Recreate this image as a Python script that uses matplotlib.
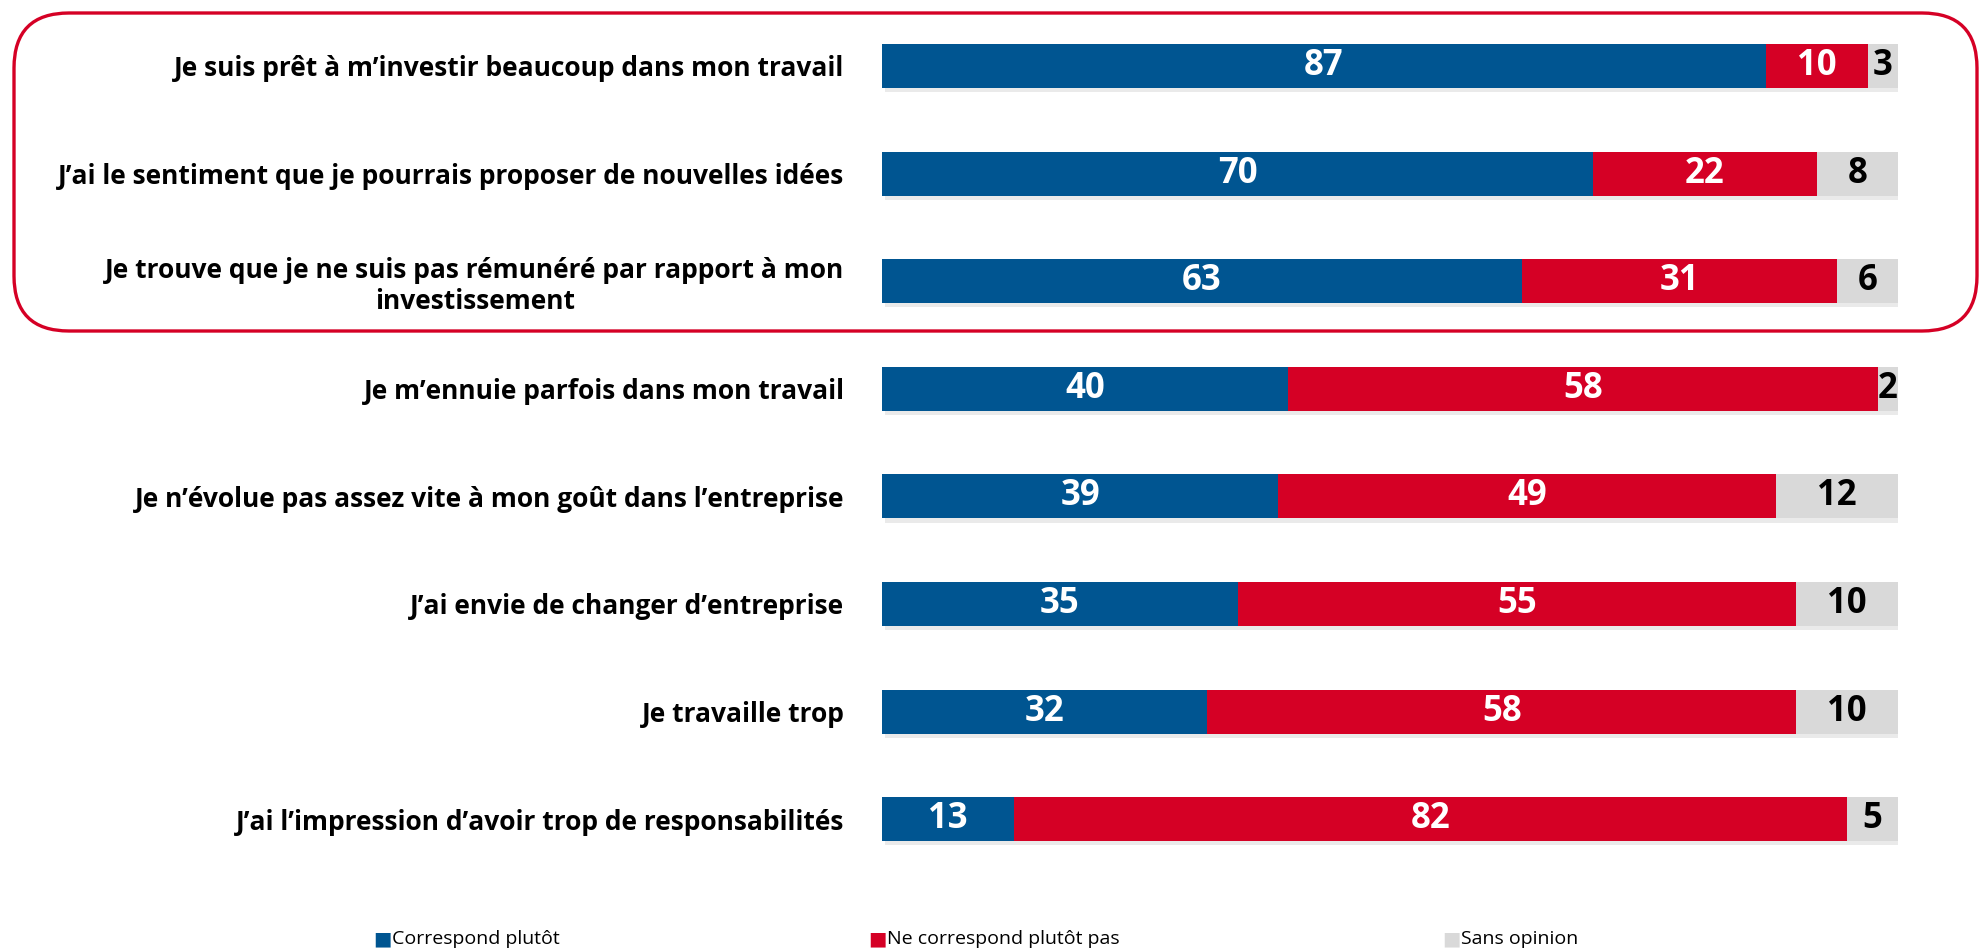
import numpy as np
import matplotlib.pyplot as plt
from matplotlib.patches import FancyBboxPatch
from matplotlib.transforms import IdentityTransform
import matplotlib.patheffects as pe

plt.rcParams["font.family"] = ["Open Sans", "DejaVu Sans"]

labels = [
    "Je suis prêt à m\u2019investir beaucoup dans mon travail",
    "J\u2019ai le sentiment que je pourrais proposer de nouvelles idées",
    "Je trouve que je ne suis pas rémunéré par rapport à mon\ninvestissement",
    "Je m\u2019ennuie parfois dans mon travail",
    "Je n\u2019évolue pas assez vite à mon goût dans l\u2019entreprise",
    "J\u2019ai envie de changer d\u2019entreprise",
    "Je travaille trop",
    "J\u2019ai l\u2019impression d\u2019avoir trop de responsabilités",
]
correspond = [87, 70, 63, 40, 39, 35, 32, 13]
ne_correspond = [10, 22, 31, 58, 49, 55, 58, 82]
sans_opinion = [3, 8, 6, 2, 12, 10, 10, 5]

series = ["Correspond plutôt", "Ne correspond plutôt pas", "Sans opinion"]
colors = ["#005591", "#d50025", "#d9d9d9"]
text_colors = ["white", "white", "black"]

W, H = 1982, 952
fig = plt.figure(figsize=(W / 100, H / 100), dpi=100)
ax = fig.add_axes([882 / W, 0, 1016 / W, 1])

y = np.arange(len(labels))
left = np.zeros(len(labels))
shadow = [pe.SimplePatchShadow(offset=(2, -3), shadow_rgbFace="#9a9a9a", alpha=0.2), pe.Normal()]
for vals, col, tcol in zip([correspond, ne_correspond, sans_opinion], colors, text_colors):
    vals = np.array(vals)
    ax.barh(y, vals, left=left, height=0.41, color=col, path_effects=shadow)
    for yi, l, v in zip(y, left, vals):
        ax.text(l + v / 2, yi, str(v), ha="center", va="center", color=tcol,
                fontsize=25, fontweight="bold")
    left = left + vals

ax.set_xlim(0, 100)
sp = 107.6
ax.set_ylim((H - 66) / sp, -66 / sp)
ax.set_yticks(y)
ax.set_yticklabels(labels, fontsize=19, fontweight="bold", multialignment="center")
ax.tick_params(axis="y", length=0, pad=27)
ax.set_xticks([])
for s in ax.spines.values():
    s.set_visible(False)
ax.patch.set_alpha(0)

# cadre arrondi autour des trois premiers items
box = FancyBboxPatch((14, H - 331), 1963, 318, boxstyle="round,pad=0,rounding_size=55",
                     transform=IdentityTransform(), fill=False, edgecolor="#d50025",
                     linewidth=2.4, zorder=5)
fig.patches.append(box)

# legende
leg_x = [373, 868, 1442]
for hx, c, name in zip(leg_x, colors, series):
    fig.text(hx / W, 1 - 939 / H, "\u25A0", color=c, fontsize=14, ha="left", va="center",
             family="DejaVu Sans")
    fig.text((hx + 19) / W, 1 - 939 / H, name, fontsize=14, ha="left", va="center")

fig.savefig("out.png", dpi=100)
